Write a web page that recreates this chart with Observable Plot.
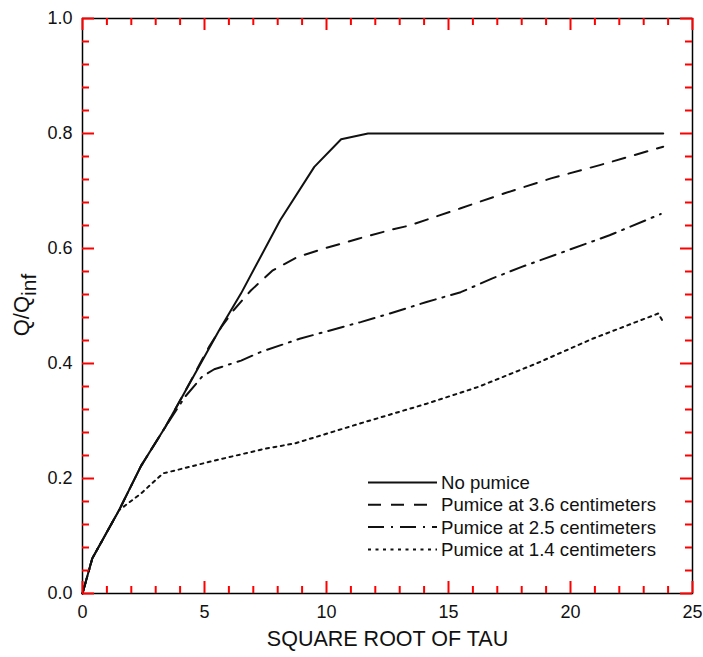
<!DOCTYPE html>
<html><head><meta charset="utf-8">
<script src="https://cdn.jsdelivr.net/npm/d3@7"></script>
<script src="https://cdn.jsdelivr.net/npm/@observablehq/plot@0.6"></script>
<style>
body{margin:0;background:#fff}
#chart svg{display:block}
</style>
</head><body><div id="chart"></div>
<script>
// ---- data ----
const seriesNames = ["No pumice", "Pumice at 3.6 centimeters", "Pumice at 2.5 centimeters", "Pumice at 1.4 centimeters"];

const noPumiceX = [0, 0.4, 1.5, 2.4, 3.4, 4.2, 5.6, 6.5, 8.1, 9.5, 10.6, 11.7, 23.8];
const noPumiceY = [0, 0.061, 0.145, 0.222, 0.29, 0.351, 0.458, 0.522, 0.649, 0.742, 0.79, 0.8, 0.8];

const pumice36X = [0, 0.4, 1.5, 2.4, 3.4, 4.2, 5.2, 5.7, 6.2, 6.9, 7.8, 8.8, 9.9, 11.3, 12.6, 13.4, 15.5, 17.3, 19.2, 21.2, 23.8];
const pumice36Y = [0, 0.061, 0.145, 0.222, 0.29, 0.351, 0.43, 0.464, 0.493, 0.527, 0.562, 0.585, 0.6, 0.617, 0.632, 0.64, 0.67, 0.696, 0.722, 0.745, 0.777];

const pumice25X = [0, 0.4, 1.5, 2.4, 3.4, 4.2, 4.9, 5.4, 6.5, 7.3, 8.9, 10.7, 11.4, 12.6, 14.1, 15.5, 16.8, 18.0, 19.9, 21.6, 23.7];
const pumice25Y = [0, 0.061, 0.145, 0.222, 0.29, 0.342, 0.377, 0.39, 0.405, 0.42, 0.443, 0.464, 0.472, 0.487, 0.507, 0.524, 0.548, 0.568, 0.597, 0.623, 0.66];

const pumice14X = [0, 0.4, 1.5, 2.4, 3.3, 3.8, 5.2, 7.5, 8.7, 11.4, 14.1, 16.2, 18.6, 20.9, 23.6, 23.8];
const pumice14Y = [0, 0.061, 0.145, 0.174, 0.209, 0.214, 0.229, 0.252, 0.261, 0.296, 0.33, 0.359, 0.4, 0.443, 0.487, 0.472];

const xMajorTicks = [0, 5, 10, 15, 20, 25];
const xMinorTicks = [1, 2, 3, 4, 6, 7, 8, 9, 11, 12, 13, 14, 16, 17, 18, 19, 21, 22, 23, 24];
const yMajorTicks = [0, 0.2, 0.4, 0.6, 0.8, 1.0];
const yMinorTicks = [0.04, 0.08, 0.12, 0.16, 0.24, 0.28, 0.32, 0.36, 0.44, 0.48, 0.52, 0.56, 0.64, 0.68, 0.72, 0.76, 0.84, 0.88, 0.92, 0.96];

const xTitle = "SQUARE ROOT OF TAU";

// ---- build table ----
const seriesX = [noPumiceX, pumice36X, pumice25X, pumice14X];
const seriesY = [noPumiceY, pumice36Y, pumice25Y, pumice14Y];
const dashes = [null, "13,10", "16,7,2,7", "3,4.5"];

const ink = "#111";
const font = "'Liberation Sans', Arial, Helvetica, sans-serif";

const W = 703, H = 657, ML = 82, MR = 11, MT = 18, MB = 64;
const innerW = W - ML - MR, innerH = H - MT - MB;
const MAJ = 12, MIN = 7;

const lineMarks = seriesNames.map((name, i) => {
  const rows = seriesX[i].map((x, j) => ({series: name, x, y: seriesY[i][j]}));
  return Plot.line(rows, {x: "x", y: "y", stroke: ink, strokeWidth: 2, strokeDasharray: dashes[i], strokeLinejoin: "round"});
});

const tk = {stroke: "red", strokeWidth: 2};

const chart = Plot.plot({
  width: W,
  height: H,
  marginLeft: ML,
  marginRight: MR,
  marginTop: MT,
  marginBottom: MB,
  x: {domain: [0, 25], label: null},
  y: {domain: [0, 1], label: null},
  marks: [
    ...lineMarks,
    Plot.frame({stroke: "black", strokeWidth: 1.5}),
    // inward ticks: bottom, top, left, right
    Plot.tickX(xMajorTicks, {...tk, x: d => d, insetTop: innerH - MAJ}),
    Plot.tickX(xMinorTicks, {...tk, x: d => d, insetTop: innerH - MIN}),
    Plot.tickX(xMajorTicks, {...tk, x: d => d, insetBottom: innerH - MAJ}),
    Plot.tickX(xMinorTicks, {...tk, x: d => d, insetBottom: innerH - MIN}),
    Plot.tickY(yMajorTicks, {...tk, y: d => d, insetRight: innerW - MAJ}),
    Plot.tickY(yMinorTicks, {...tk, y: d => d, insetRight: innerW - MIN}),
    Plot.tickY(yMajorTicks, {...tk, y: d => d, insetLeft: innerW - MAJ}),
    Plot.tickY(yMinorTicks, {...tk, y: d => d, insetLeft: innerW - MIN}),
    // tick labels
    Plot.axisX({ticks: xMajorTicks, anchor: "bottom", tickSize: 0, tickPadding: 12, label: null, tickFormat: d3.format("d"), fontSize: 18, fontFamily: font, fill: ink}),
    Plot.axisY({ticks: yMajorTicks, anchor: "left", tickSize: 0, tickPadding: 10, label: null, tickFormat: d3.format(".1f"), fontSize: 18, fontFamily: font, fill: ink}),
    // x title
    Plot.text([xTitle], {frameAnchor: "bottom", dy: 52, text: d => d, fontSize: 21.5, fontFamily: font, fill: ink})
  ]
});

document.getElementById("chart").append(chart);

const svg = d3.select(chart);

// y-axis title with subscript
const yt = svg.append("text")
  .attr("transform", "translate(29,305) rotate(-90)")
  .attr("text-anchor", "middle")
  .attr("font-family", font)
  .attr("font-size", 22)
  .attr("fill", ink);
yt.append("tspan").text("Q/Q");
yt.append("tspan").attr("dy", 7).attr("font-size", 21).text("inf");

// legend
const legend = svg.append("g")
  .attr("font-family", font)
  .attr("font-size", 18.6)
  .attr("text-anchor", "start")
  .attr("fill", ink);
const legendTop = 482.5, legendStep = 22.3;
seriesNames.forEach((name, i) => {
  const yy = legendTop + i * legendStep;
  legend.append("line")
    .attr("x1", 368).attr("x2", 437).attr("y1", yy).attr("y2", yy)
    .attr("stroke", ink).attr("stroke-width", 2)
    .attr("stroke-dasharray", dashes[i]);
  legend.append("text").attr("x", 441).attr("y", yy).attr("dy", "0.35em").text(name);
});
</script>
</body></html>
